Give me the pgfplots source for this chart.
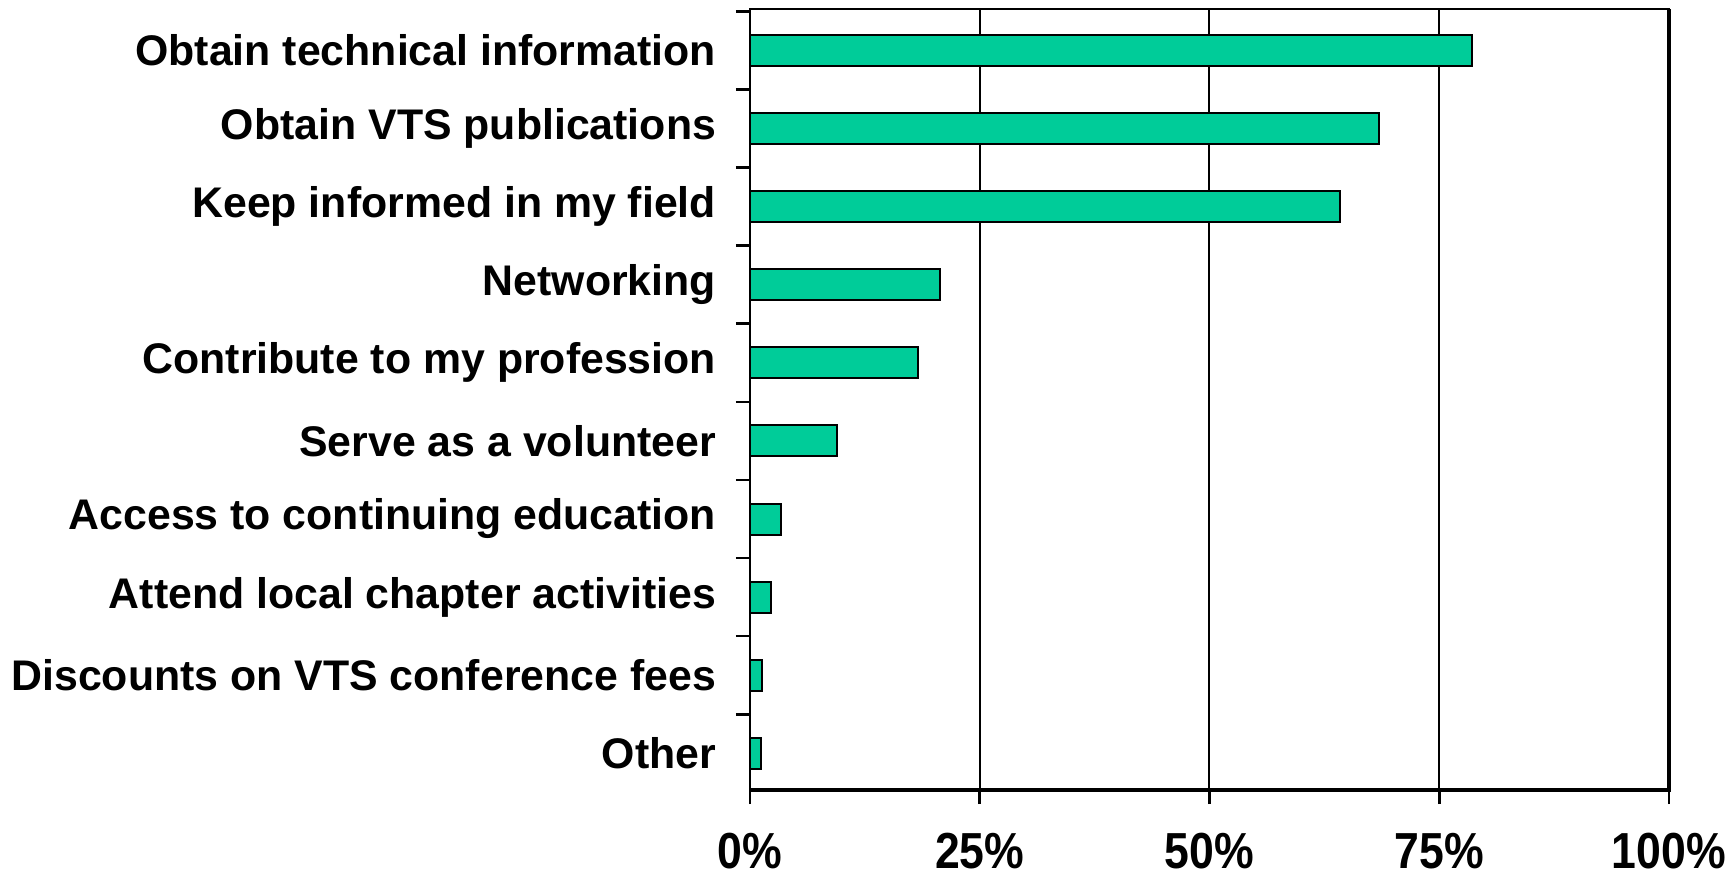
\documentclass[border=0pt]{standalone}
\usepackage{pgfplots}
\pgfplotsset{compat=1.18}
\usepackage{fontspec}
\setmainfont{Liberation Sans}
\newfontfamily\xtickfont[FakeStretch=0.88]{Liberation Sans}
\definecolor{barfill}{RGB}{0,204,153}
\begin{document}
\begin{tikzpicture}[x=1pt,y=1pt]
\begin{axis}[
  at={(0,0)}, anchor=south west,
  scale only axis,
  width=275.7pt, height=234.3pt,
  xmin=0, xmax=100,
  ymin=-0.53, ymax=9.47,
  y dir=reverse,
  xbar, bar width=9.3pt,
  axis line style={black, line width=0.8pt},
  xtick={0,25,50,75,100},
  xticklabels={0\%,25\%,50\%,75\%,100\%},
  xmajorgrids,
  grid style={black, line width=0.6pt},
  ytick={-0.5,0.5,1.5,2.5,3.5,4.5,5.5,6.5,7.5,8.5,9.5},
  yticklabels={},
  extra y ticks={0,1,2,3,4,5,6,7,8,9},
  extra y tick labels={Obtain technical information,Obtain VTS publications,Keep informed in my field,Networking,Contribute to my profession,Serve as a volunteer,Access to continuing education,Attend local chapter activities,Discounts on VTS conference fees,Other},
  extra y tick style={tick style={draw=none}, yticklabel style={font=\bfseries\fontsize{12.85}{14}\selectfont, anchor=east, inner sep=0pt, xshift=-5.8pt}},
  tick align=outside,
  major tick length=4.2pt,
  tick style={black, line width=0.8pt},
  xtick pos=bottom, ytick pos=left,
  xticklabel style={font=\xtickfont\bfseries\fontsize{15.2}{17}\selectfont, anchor=north, inner sep=0pt, yshift=-8.6pt},
  clip=false,
]
\addplot[fill=barfill, draw=black, line width=0.6pt] coordinates {
  (78.6,0) (68.4,1) (64.2,2) (20.7,3) (18.3,4) (9.5,5) (3.4,6) (2.3,7) (1.3,8) (1.2,9)
};
\draw[black, line width=1.3pt] (rel axis cs:1,1) -- (rel axis cs:1,0) -- (rel axis cs:0,0);
\end{axis}
\pgfresetboundingbox
\useasboundingbox (-225pt,-25.8pt) rectangle (295.5pt,237pt);
\end{tikzpicture}
\end{document}
